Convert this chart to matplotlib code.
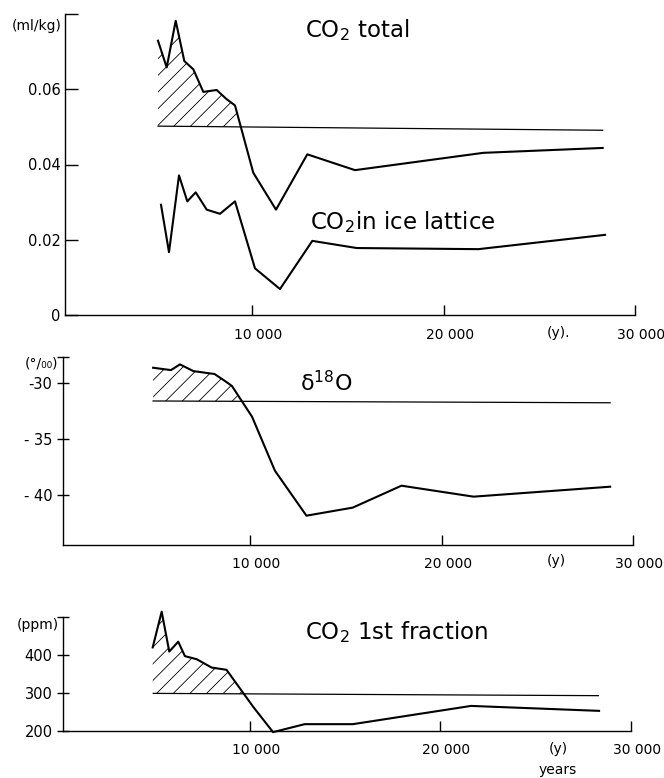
import numpy as np
import matplotlib
matplotlib.use('Agg')
import matplotlib.pyplot as plt
from matplotlib.transforms import ScaledTranslation

W, H = 664, 778
plt.rcParams['font.family'] = ['DejaVu Sans']
plt.rcParams['hatch.linewidth'] = 0.6
plt.rcParams['mathtext.default'] = 'regular'

# ---------------- data ----------------
total_x = [5062, 5517, 5988, 6437, 6908, 7430, 8131, 8617, 9088, 10044, 11231, 12867, 15361, 22069, 28311]
total_y = [0.0729, 0.0658, 0.0782, 0.0675, 0.0653, 0.0593, 0.0598, 0.0575, 0.0557, 0.0378, 0.0280, 0.0427,
           0.0385, 0.0431, 0.0444]
total_base_x = [5062, 28311]
total_base_y = [0.0502, 0.0491]

lattice_x = [5219, 5637, 6160, 6594, 7033, 7608, 8303, 9088, 10133, 11440, 13129, 15449, 21810, 28432]
lattice_y = [0.0293, 0.0167, 0.0371, 0.0302, 0.0326, 0.0280, 0.0269, 0.0302, 0.0124, 0.0069, 0.0197, 0.0178,
             0.0175, 0.0213]

d18o_x = [4911, 5842, 6316, 7016, 8121, 8647, 9032, 10084, 11279, 12926, 15347, 17895, 21663, 28805]
d18o_y = [-28.66, -28.87, -28.36, -28.96, -29.22, -29.82, -30.29, -33.04, -37.86, -41.88, -41.16, -39.2,
          -40.18, -39.29]
d18o_base_x = [4911, 28805]
d18o_base_y = [-31.63, -31.79]

frac_x = [4906, 5377, 5775, 6246, 6597, 7209, 7995, 8780, 10173, 11220, 12880, 15408, 21607, 28325]
frac_y = [420, 514, 409, 435, 397, 389, 367, 361, 264, 197, 218, 218, 266, 253]
frac_base_x = [4937, 28288]
frac_base_y = [299, 293]

x_ticks = [10000, 20000, 30000]
x_ticklabels = ['10 000', '20 000', '30 000']

# ---------------- figure ----------------
fig = plt.figure(figsize=(W / 100, H / 100), dpi=100)


def add_axes(l, r, t, b):
    return fig.add_axes([l / W, 1 - b / H, (r - l) / W, (b - t) / H])


def setup(ax, ylim, yticks, yticklabels, ydir='in'):
    ax.set_xlim(200, 30000)
    ax.set_ylim(*ylim)
    for s in ('top', 'right'):
        ax.spines[s].set_visible(False)
    for s in ('left', 'bottom'):
        ax.spines[s].set_linewidth(1.0)
    ax.set_xticks(x_ticks)
    ax.set_xticklabels(x_ticklabels, fontsize=10)
    ax.set_yticks(yticks)
    ax.set_yticklabels(yticklabels, fontsize=10.5)
    ax.tick_params(axis='x', direction='in', length=7, width=1.0, pad=9)
    ax.tick_params(axis='y', direction=ydir, length=9, width=1.0, pad=3)
    off = ScaledTranslation(6 / 100, 0, fig.dpi_scale_trans)
    for lab in ax.get_xticklabels():
        lab.set_transform(lab.get_transform() + off)
    ax.patch.set_alpha(0)


def plot_hatched(ax, xs, ys, bx, by):
    xs = np.asarray(xs, float)
    ys = np.asarray(ys, float)
    base = np.interp(xs, bx, by)
    ax.fill_between(xs, ys, base, where=ys >= base, interpolate=True,
                    facecolor='none', edgecolor='black', hatch='//', linewidth=0, clip_on=False)
    ax.plot(bx, by, color='black', lw=0.9, clip_on=False)
    ax.plot(xs, ys, color='black', lw=1.5, clip_on=False)


def ftext(px, py, s, size, ha='center', **kw):
    fig.text(px / W, 1 - py / H, s, fontsize=size, ha=ha, va='center', **kw)


# Panel 1
ax1 = add_axes(65, 635, 14, 315)
setup(ax1, (0, 0.08), [0, 0.02, 0.04, 0.06, 0.08], ['0', '0.02', '0.04', '0.06', ''])
plot_hatched(ax1, total_x, total_y, total_base_x, total_base_y)
ax1.plot(lattice_x, lattice_y, color='black', lw=1.5, clip_on=False)
ftext(305, 30, 'CO$_2$ total', 16.5, ha='left')
ftext(310, 222, 'CO$_2$in ice lattice', 16.5, ha='left')
ftext(37, 26, '(ml/kg)', 10)
ftext(559, 333, '(y).', 10)

# Panel 2
ax2 = add_axes(63, 633, 357, 545)
setup(ax2, (-44.5, -27.7), [-40, -35, -30, -27.7], ['- 40', '- 35', '-30', ''], ydir='inout')
plot_hatched(ax2, d18o_x, d18o_y, d18o_base_x, d18o_base_y)
ftext(300, 383, r'$\delta^{18}$O', 16, ha='left')
ftext(42, 364, '(°/₀₀)', 10)
ftext(556, 561, '(y)', 10)

# Panel 3
ax3 = add_axes(63, 631, 617, 731)
setup(ax3, (200, 500), [200, 300, 400, 500], ['200', '300', '400', ''], ydir='inout')
plot_hatched(ax3, frac_x, frac_y, frac_base_x, frac_base_y)
ftext(305, 632, 'CO$_2$ 1st fraction', 16.5, ha='left')
ftext(38, 625, '(ppm)', 10)
ftext(558, 749, '(y)', 10)
ftext(558, 770, 'years', 10)

fig.savefig('out.png', dpi=100)
